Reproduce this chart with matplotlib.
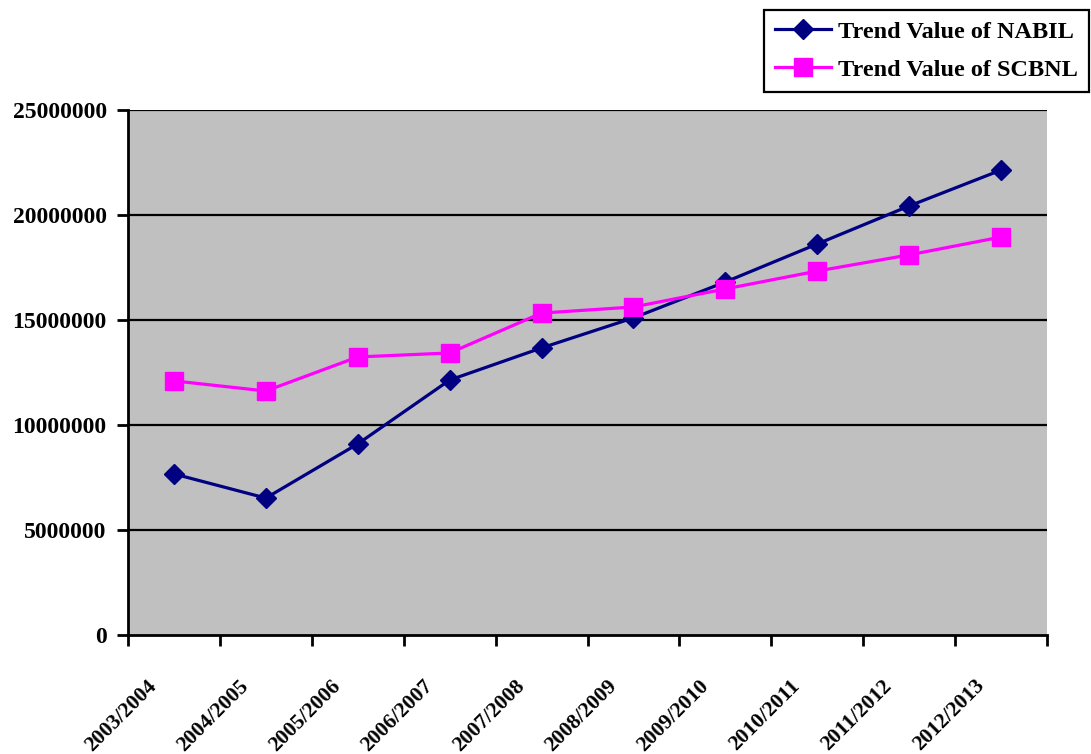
import matplotlib
matplotlib.use("Agg")
import matplotlib.pyplot as plt
from matplotlib.transforms import ScaledTranslation
import numpy as np

categories = ["2003/2004", "2004/2005", "2005/2006", "2006/2007", "2007/2008",
              "2008/2009", "2009/2010", "2010/2011", "2011/2012", "2012/2013"]
nabil = [7670000, 6520000, 9100000, 12140000, 13670000,
         15100000, 16810000, 18620000, 20430000, 22140000]
scbnl = [12100000, 11620000, 13240000, 13430000, 15330000,
         15620000, 16480000, 17330000, 18100000, 18950000]
yticks = [0, 5000000, 10000000, 15000000, 20000000, 25000000]

FONT = "Liberation Serif"
FS = 17
FSL = 17.5
FSX = 15.5

fig = plt.figure(figsize=(10.91, 7.54), dpi=100)
W, H = 1091, 754
ax = fig.add_axes([128 / W, 1 - 635 / H, (1047 - 128) / W, (635 - 110) / H])
ax.set_facecolor("#C0C0C0")

x = np.arange(len(categories)) + 0.5
ax.plot(x, nabil, color="#000080", lw=2.3, marker="D", ms=10.2,
        label="Trend Value of NABIL", zorder=3)
ax.plot(x, scbnl, color="#FF00FF", lw=2.3, marker="s", ms=13.5,
        label="Trend Value of SCBNL", zorder=3)

ax.set_xlim(0, len(categories))
ax.set_ylim(0, 25000000)

for s in ["top", "right"]:
    ax.spines[s].set_visible(False)
for s in ["left", "bottom"]:
    ax.spines[s].set_linewidth(2)
    ax.spines[s].set_color("black")

ax.set_yticks(yticks)
ax.set_yticklabels([str(v) for v in yticks], fontfamily=FONT, fontsize=FS, fontweight="bold")
ax.tick_params(axis="y", length=8, width=2, pad=7.3)
for v in yticks[1:]:
    ax.axhline(v, color="black", lw=1.6, zorder=1)

ax.set_xticks(np.arange(len(categories) + 1))
ax.set_xticklabels([])
ax.tick_params(axis="x", which="major", length=8, width=2)
ax.set_xticks(x, minor=True)
ax.set_xticklabels(categories, minor=True, rotation=45, ha="right", va="center",
                   rotation_mode="anchor", fontfamily=FONT, fontsize=FSX, fontweight="bold")
ax.tick_params(axis="x", which="minor", length=0, pad=34.5)
off = ScaledTranslation(-20 / 100, 0, fig.dpi_scale_trans)
for lab in ax.get_xticklabels(minor=True):
    lab.set_transform(lab.get_transform() + off)

leg = fig.legend(loc="upper left", bbox_to_anchor=(764 / W, 1 - 10 / H),
                 bbox_transform=fig.transFigure,
                 prop={"family": FONT, "size": FSL, "weight": "bold"},
                 frameon=True, fancybox=False, framealpha=1, edgecolor="black",
                 handlelength=2.3, handletextpad=0.3, labelspacing=0.65,
                 borderpad=0.45, borderaxespad=0)
leg.get_frame().set_linewidth(1.6)

fig.savefig("out.png", dpi=100)
